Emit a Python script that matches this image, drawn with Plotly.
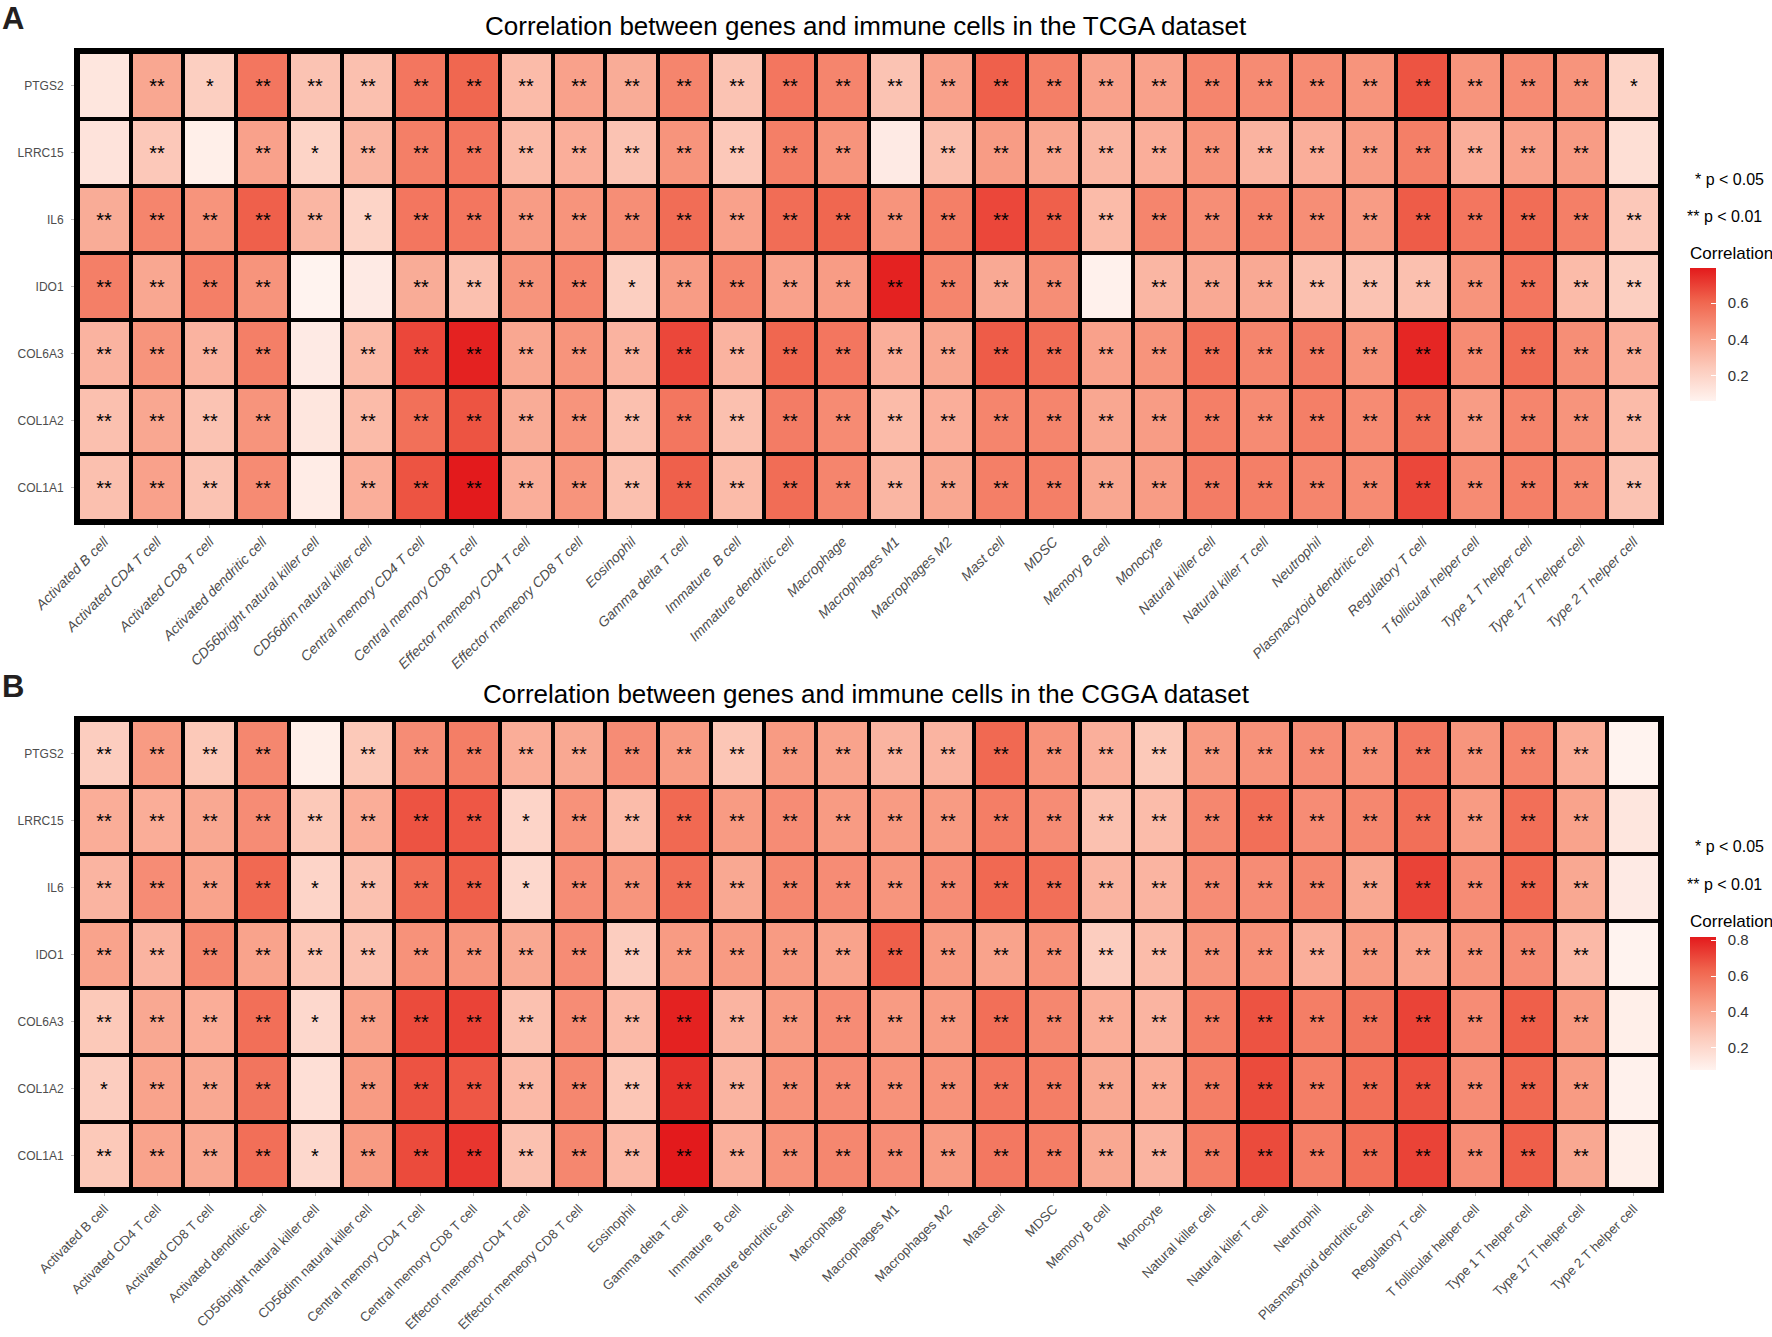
import plotly.graph_objects as go

# immune cell types (columns) and genes (rows, top to bottom)
cells = [
    "Activated B cell", "Activated CD4 T cell", "Activated CD8 T cell",
    "Activated dendritic cell", "CD56bright natural killer cell",
    "CD56dim natural killer cell", "Central memory CD4 T cell",
    "Central memory CD8 T cell", "Effector memeory CD4 T cell",
    "Effector memeory CD8 T cell", "Eosinophil", "Gamma delta T cell",
    "Immature  B cell", "Immature dendritic cell", "Macrophage",
    "Macrophages M1", "Macrophages M2", "Mast cell", "MDSC", "Memory B cell",
    "Monocyte", "Natural killer cell", "Natural killer T cell", "Neutrophil",
    "Plasmacytoid dendritic cell", "Regulatory T cell",
    "T follicular helper cell", "Type 1 T helper cell",
    "Type 17 T helper cell", "Type 2 T helper cell",
]
genes = ["PTGS2", "LRRC15", "IL6", "IDO1", "COL6A3", "COL1A2", "COL1A1"]

# TCGA correlations (estimated from the tile colours)
tcga_ptgs2 = [0.12, 0.38, 0.22, 0.55, 0.27, 0.28, 0.55, 0.60, 0.30, 0.40, 0.36, 0.50, 0.27, 0.55, 0.50,
              0.27, 0.40, 0.62, 0.52, 0.40, 0.40, 0.50, 0.48, 0.48, 0.45, 0.65, 0.45, 0.48, 0.45, 0.20]
tcga_lrrc15 = [0.13, 0.25, 0.08, 0.40, 0.20, 0.32, 0.52, 0.55, 0.30, 0.35, 0.27, 0.45, 0.25, 0.52, 0.45,
               0.10, 0.28, 0.42, 0.38, 0.32, 0.35, 0.45, 0.33, 0.35, 0.42, 0.52, 0.35, 0.40, 0.42, 0.15]
tcga_il6 = [0.36, 0.50, 0.45, 0.62, 0.32, 0.20, 0.55, 0.55, 0.42, 0.45, 0.47, 0.58, 0.40, 0.58, 0.60,
            0.45, 0.52, 0.68, 0.62, 0.30, 0.50, 0.47, 0.50, 0.47, 0.42, 0.63, 0.55, 0.58, 0.52, 0.25]
tcga_ido1 = [0.52, 0.38, 0.52, 0.45, 0.06, 0.10, 0.36, 0.28, 0.45, 0.50, 0.22, 0.42, 0.50, 0.40, 0.42,
             0.77, 0.50, 0.37, 0.47, 0.07, 0.32, 0.37, 0.37, 0.28, 0.27, 0.28, 0.45, 0.55, 0.30, 0.22]
tcga_col6a3 = [0.33, 0.45, 0.33, 0.52, 0.10, 0.30, 0.68, 0.77, 0.38, 0.45, 0.33, 0.68, 0.33, 0.60, 0.55,
               0.35, 0.38, 0.63, 0.58, 0.40, 0.45, 0.57, 0.50, 0.53, 0.45, 0.76, 0.48, 0.58, 0.47, 0.35]
tcga_col1a2 = [0.28, 0.38, 0.27, 0.45, 0.12, 0.30, 0.57, 0.65, 0.36, 0.45, 0.28, 0.55, 0.28, 0.53, 0.48,
               0.30, 0.35, 0.50, 0.50, 0.38, 0.42, 0.52, 0.48, 0.52, 0.48, 0.57, 0.42, 0.50, 0.45, 0.30]
tcga_col1a1 = [0.28, 0.40, 0.27, 0.48, 0.09, 0.35, 0.65, 0.79, 0.35, 0.45, 0.28, 0.62, 0.30, 0.58, 0.50,
               0.32, 0.38, 0.52, 0.52, 0.38, 0.42, 0.53, 0.52, 0.50, 0.48, 0.68, 0.48, 0.52, 0.48, 0.27]

# significance: 0 = ns, 1 = p < 0.05, 2 = p < 0.01
tcga_ptgs2_sig = [0, 2, 1, 2, 2, 2, 2, 2, 2, 2, 2, 2, 2, 2, 2, 2, 2, 2, 2, 2, 2, 2, 2, 2, 2, 2, 2, 2, 2, 1]
tcga_lrrc15_sig = [0, 2, 0, 2, 1, 2, 2, 2, 2, 2, 2, 2, 2, 2, 2, 0, 2, 2, 2, 2, 2, 2, 2, 2, 2, 2, 2, 2, 2, 0]
tcga_il6_sig = [2, 2, 2, 2, 2, 1, 2, 2, 2, 2, 2, 2, 2, 2, 2, 2, 2, 2, 2, 2, 2, 2, 2, 2, 2, 2, 2, 2, 2, 2]
tcga_ido1_sig = [2, 2, 2, 2, 0, 0, 2, 2, 2, 2, 1, 2, 2, 2, 2, 2, 2, 2, 2, 0, 2, 2, 2, 2, 2, 2, 2, 2, 2, 2]
tcga_col6a3_sig = [2, 2, 2, 2, 0, 2, 2, 2, 2, 2, 2, 2, 2, 2, 2, 2, 2, 2, 2, 2, 2, 2, 2, 2, 2, 2, 2, 2, 2, 2]
tcga_col1a2_sig = [2, 2, 2, 2, 0, 2, 2, 2, 2, 2, 2, 2, 2, 2, 2, 2, 2, 2, 2, 2, 2, 2, 2, 2, 2, 2, 2, 2, 2, 2]
tcga_col1a1_sig = [2, 2, 2, 2, 0, 2, 2, 2, 2, 2, 2, 2, 2, 2, 2, 2, 2, 2, 2, 2, 2, 2, 2, 2, 2, 2, 2, 2, 2, 2]

# CGGA correlations
cgga_ptgs2 = [0.25, 0.45, 0.27, 0.52, 0.10, 0.27, 0.50, 0.55, 0.38, 0.40, 0.50, 0.45, 0.28, 0.45, 0.42,
              0.35, 0.35, 0.62, 0.48, 0.37, 0.27, 0.45, 0.48, 0.50, 0.48, 0.57, 0.47, 0.53, 0.38, 0.08]
cgga_lrrc15 = [0.38, 0.38, 0.40, 0.50, 0.27, 0.38, 0.68, 0.67, 0.22, 0.48, 0.32, 0.62, 0.45, 0.50, 0.45,
               0.45, 0.45, 0.55, 0.50, 0.30, 0.32, 0.52, 0.60, 0.50, 0.52, 0.60, 0.45, 0.60, 0.42, 0.14]
cgga_il6 = [0.35, 0.50, 0.42, 0.62, 0.22, 0.30, 0.60, 0.65, 0.20, 0.50, 0.47, 0.60, 0.40, 0.52, 0.50,
            0.47, 0.50, 0.62, 0.60, 0.35, 0.35, 0.50, 0.50, 0.52, 0.40, 0.72, 0.50, 0.62, 0.40, 0.12]
cgga_ido1 = [0.42, 0.35, 0.52, 0.42, 0.28, 0.30, 0.48, 0.47, 0.40, 0.50, 0.25, 0.45, 0.45, 0.45, 0.42,
             0.65, 0.45, 0.42, 0.48, 0.25, 0.32, 0.47, 0.48, 0.37, 0.45, 0.42, 0.47, 0.50, 0.33, 0.08]
cgga_col6a3 = [0.27, 0.40, 0.38, 0.60, 0.20, 0.42, 0.70, 0.72, 0.30, 0.50, 0.33, 0.80, 0.35, 0.45, 0.50,
               0.45, 0.45, 0.60, 0.52, 0.38, 0.35, 0.55, 0.68, 0.55, 0.58, 0.72, 0.50, 0.65, 0.45, 0.10]
cgga_col1a2 = [0.25, 0.42, 0.40, 0.58, 0.17, 0.45, 0.68, 0.67, 0.33, 0.52, 0.28, 0.76, 0.35, 0.48, 0.50,
               0.48, 0.48, 0.57, 0.55, 0.40, 0.38, 0.55, 0.70, 0.55, 0.60, 0.68, 0.50, 0.62, 0.45, 0.09]
cgga_col1a1 = [0.27, 0.42, 0.40, 0.60, 0.20, 0.45, 0.70, 0.75, 0.30, 0.52, 0.33, 0.82, 0.37, 0.48, 0.52,
               0.50, 0.45, 0.57, 0.55, 0.40, 0.35, 0.55, 0.70, 0.55, 0.60, 0.72, 0.50, 0.65, 0.40, 0.10]

cgga_ptgs2_sig = [2, 2, 2, 2, 0, 2, 2, 2, 2, 2, 2, 2, 2, 2, 2, 2, 2, 2, 2, 2, 2, 2, 2, 2, 2, 2, 2, 2, 2, 0]
cgga_lrrc15_sig = [2, 2, 2, 2, 2, 2, 2, 2, 1, 2, 2, 2, 2, 2, 2, 2, 2, 2, 2, 2, 2, 2, 2, 2, 2, 2, 2, 2, 2, 0]
cgga_il6_sig = [2, 2, 2, 2, 1, 2, 2, 2, 1, 2, 2, 2, 2, 2, 2, 2, 2, 2, 2, 2, 2, 2, 2, 2, 2, 2, 2, 2, 2, 0]
cgga_ido1_sig = [2, 2, 2, 2, 2, 2, 2, 2, 2, 2, 2, 2, 2, 2, 2, 2, 2, 2, 2, 2, 2, 2, 2, 2, 2, 2, 2, 2, 2, 0]
cgga_col6a3_sig = [2, 2, 2, 2, 1, 2, 2, 2, 2, 2, 2, 2, 2, 2, 2, 2, 2, 2, 2, 2, 2, 2, 2, 2, 2, 2, 2, 2, 2, 0]
cgga_col1a2_sig = [1, 2, 2, 2, 0, 2, 2, 2, 2, 2, 2, 2, 2, 2, 2, 2, 2, 2, 2, 2, 2, 2, 2, 2, 2, 2, 2, 2, 2, 0]
cgga_col1a1_sig = [2, 2, 2, 2, 1, 2, 2, 2, 2, 2, 2, 2, 2, 2, 2, 2, 2, 2, 2, 2, 2, 2, 2, 2, 2, 2, 2, 2, 2, 0]

tcga_z = [tcga_ptgs2, tcga_lrrc15, tcga_il6, tcga_ido1, tcga_col6a3, tcga_col1a2, tcga_col1a1]
tcga_sig = [tcga_ptgs2_sig, tcga_lrrc15_sig, tcga_il6_sig, tcga_ido1_sig,
            tcga_col6a3_sig, tcga_col1a2_sig, tcga_col1a1_sig]
cgga_z = [cgga_ptgs2, cgga_lrrc15, cgga_il6, cgga_ido1, cgga_col6a3, cgga_col1a2, cgga_col1a1]
cgga_sig = [cgga_ptgs2_sig, cgga_lrrc15_sig, cgga_il6_sig, cgga_ido1_sig,
            cgga_col6a3_sig, cgga_col1a2_sig, cgga_col1a1_sig]

W, H = 1772, 1337
FONT = "Liberation Sans, Arial, sans-serif"

# white -> red, roughly like ggplot's gradient
reds = [[0.0, "#FFF3EF"], [0.25, "#FCCABB"], [0.5, "#F89B83"],
        [0.75, "#F0654E"], [1.0, "#E31A1C"]]


def stars(sig):
    return [["*" * s for s in row] for row in sig]


def px_x(v):
    return v / W


def px_y(v):
    return 1 - v / H


def note(text, x, y, size, xanchor="left", color="black"):
    fig.add_annotation(text=text, x=px_x(x), y=px_y(y), xref="paper", yref="paper",
                       xanchor=xanchor, yanchor="middle", showarrow=False,
                       font=dict(size=size, color=color, family=FONT))


fig = go.Figure()

panels = [
    # z, significance, axis suffix, top px, bottom px, title, label style, label size, panel letter
    (tcga_z, tcga_sig, "", 52, 521, "Correlation between genes and immune cells in the TCGA dataset",
     "italic", 14, "A"),
    (cgga_z, cgga_sig, "2", 720, 1189, "Correlation between genes and immune cells in the CGGA dataset",
     "normal", 13.3, "B"),
]

for z, sig, ax, top, bottom, title, style, lab_size, letter in panels:
    cb_mid = top + 283
    fig.add_trace(go.Heatmap(
        z=z, x=cells, y=genes,
        text=stars(sig), texttemplate="%{text}",
        textfont=dict(size=20, color="black", family=FONT),
        colorscale=reds, xgap=4, ygap=4,
        xaxis="x" + ax, yaxis="y" + ax,
        colorbar=dict(
            x=px_x(1690), xanchor="left", xpad=0, y=px_y(cb_mid), yanchor="middle", ypad=0,
            lenmode="pixels", len=133, thickness=26, outlinewidth=0,
            tick0=0, dtick=0.2, ticks="inside", ticklen=5, tickcolor="white",
            tickprefix="\u00a0\u00a0",
            tickfont=dict(size=15, color="#333333", family=FONT),
        ),
    ))
    note(title, 866, top - 26, 26, xanchor="center")
    note("<b>" + letter + "</b>", 0, top - 34, 31, color="#231F20")
    note("* p < 0.05", 1693, top + 127, 16)
    note("** p < 0.01", 1685, top + 164, 16)
    note("Correlation", 1688, top + 201, 17)

    axis_line = dict(showline=True, mirror=True, linecolor="black", linewidth=4, showgrid=False,
                     zeroline=False, ticks="outside", ticklen=3, tickcolor="#BBBBBB",
                     automargin=False)
    fig.update_layout(**{
        "xaxis" + ax: dict(domain=[px_x(78), px_x(1660)], anchor="y" + ax, tickangle=-45,
                           tickfont=dict(size=lab_size, color="#4D4D4D", family=FONT, style=style),
                           **axis_line),
        "yaxis" + ax: dict(domain=[px_y(bottom), px_y(top)], anchor="x" + ax, autorange="reversed",
                           tickfont=dict(size=12, color="#4D4D4D", family=FONT),
                           ticklabelstandoff=5, **axis_line),
    })

fig.update_layout(
    width=W, height=H,
    margin=dict(l=0, r=0, t=0, b=0, autoexpand=False),
    paper_bgcolor="white", plot_bgcolor="black",
)

fig.write_html("out.html", config={"displayModeBar": False},
               post_script="document.body.style.margin = '0';")
